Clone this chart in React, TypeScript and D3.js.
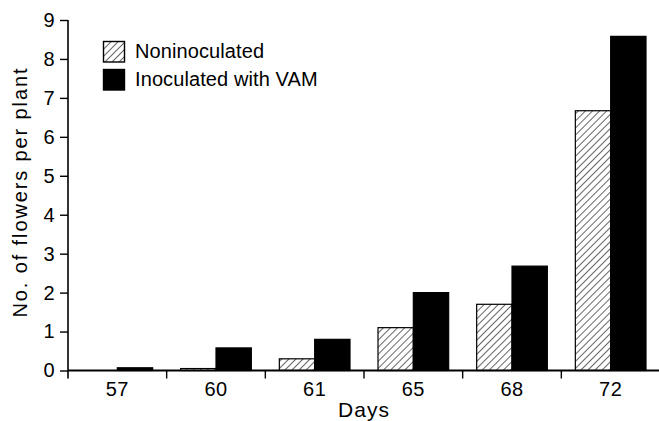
import React, { useEffect, useRef } from "react";
import * as d3 from "d3";

const days = ["57", "60", "61", "65", "68", "72"];
const series = ["Noninoculated", "Inoculated with VAM"];
const noninoculated = [0, 0.05, 0.3, 1.1, 1.7, 6.67];
const inoculated = [0.07, 0.58, 0.8, 2.0, 2.68, 8.58];
const yTicks = [0, 1, 2, 3, 4, 5, 6, 7, 8, 9];

const App = () => {
  const svgRef = useRef<SVGSVGElement>(null);

  useEffect(() => {
    const width = 659,
      height = 421;
    const left = 68,
      right = 660,
      top = 20,
      bottom = 370.5;
    const font = "'Liberation Sans', Arial, Helvetica, sans-serif";

    const svg = d3
      .select(svgRef.current)
      .attr("width", width)
      .attr("height", height)
      .html("");

    // hatch pattern for the noninoculated bars
    const defs = svg.append("defs");
    const pat = defs
      .append("pattern")
      .attr("id", "hatch")
      .attr("patternUnits", "userSpaceOnUse")
      .attr("width", 5)
      .attr("height", 5)
      .attr("patternTransform", "rotate(45)");
    pat.append("rect").attr("width", 5).attr("height", 5).attr("fill", "#fff");
    pat
      .append("line")
      .attr("x1", 0)
      .attr("y1", 0)
      .attr("x2", 0)
      .attr("y2", 5)
      .attr("stroke", "#000")
      .attr("stroke-width", 1.2);

    const x0 = d3.scaleBand().domain(days).range([left, right]).padding(0);
    const x1 = d3
      .scaleBand()
      .domain(series)
      .range([14, x0.bandwidth() - 14])
      .padding(0);
    const y = d3.scaleLinear().domain([0, 9]).range([bottom, top]);

    const rows = days.map((d, i) => ({
      day: d,
      vals: [
        { key: series[0], v: noninoculated[i] },
        { key: series[1], v: inoculated[i] },
      ],
    }));

    // bars
    const groups = svg
      .append("g")
      .selectAll("g")
      .data(rows)
      .enter()
      .append("g")
      .attr("transform", (d) => `translate(${x0(d.day)},0)`);

    groups
      .selectAll("rect")
      .data((d) => d.vals)
      .enter()
      .append("rect")
      .attr("x", (d) => x1(d.key)!)
      .attr("y", (d) => y(d.v))
      .attr("width", x1.bandwidth())
      .attr("height", (d) => bottom - y(d.v))
      .attr("fill", (d) => (d.key === series[0] ? "url(#hatch)" : "#000"))
      .attr("stroke", "#000")
      .attr("stroke-width", (d) => (d.v > 0 ? 1.2 : 0));

    // y axis
    const yAxis = svg
      .append("g")
      .attr("transform", `translate(${left},0)`)
      .call(
        d3
          .axisLeft(y)
          .tickValues(yTicks)
          .tickSize(8)
          .tickPadding(5)
          .tickSizeOuter(0)
      );
    yAxis.select(".domain").attr("stroke-width", 1.6).attr("d", `M0,${top}V${bottom + 8}`);
    yAxis.selectAll(".tick line").attr("stroke-width", 1.4);
    yAxis
      .selectAll("text")
      .attr("font-family", font)
      .attr("font-size", 20)
      .attr("letter-spacing", 0.5)
      .attr("fill", "#000");

    // x axis: line plus ticks at band boundaries
    svg
      .append("line")
      .attr("x1", left)
      .attr("x2", right)
      .attr("y1", bottom)
      .attr("y2", bottom)
      .attr("stroke", "#000")
      .attr("stroke-width", 2);

    svg
      .append("g")
      .selectAll("line")
      .data(days.slice(1))
      .enter()
      .append("line")
      .attr("x1", (d) => x0(d)!)
      .attr("x2", (d) => x0(d)!)
      .attr("y1", bottom)
      .attr("y2", bottom + 8)
      .attr("stroke", "#000")
      .attr("stroke-width", 1.4);

    svg
      .append("g")
      .selectAll("text")
      .data(days)
      .enter()
      .append("text")
      .attr("x", (d) => x0(d)! + x0.bandwidth() / 2)
      .attr("y", 396)
      .attr("text-anchor", "middle")
      .attr("font-family", font)
      .attr("font-size", 20)
      .attr("letter-spacing", 0.5)
      .text((d) => d);

    // axis titles
    svg
      .append("text")
      .attr("x", (left + right) / 2)
      .attr("y", 417)
      .attr("text-anchor", "middle")
      .attr("font-family", font)
      .attr("font-size", 21)
      .attr("letter-spacing", 1)
      .text("Days");

    svg
      .append("text")
      .attr("transform", `translate(27,193) rotate(-90)`)
      .attr("text-anchor", "middle")
      .attr("font-family", font)
      .attr("font-size", 20)
      .attr("textLength", 249)
      .attr("lengthAdjust", "spacing")
      .text("No. of flowers per plant");

    // legend
    const legend = svg
      .append("g")
      .selectAll("g")
      .data(series)
      .enter()
      .append("g")
      .attr("transform", (d, i) => `translate(103.5,${41.5 + i * 28})`);
    legend
      .append("rect")
      .attr("width", 21)
      .attr("height", 20.5)
      .attr("fill", (d, i) => (i === 0 ? "url(#hatch)" : "#000"))
      .attr("stroke", "#000")
      .attr("stroke-width", 1.4);
    legend
      .append("text")
      .attr("x", 31.5)
      .attr("y", 16.5)
      .attr("font-family", font)
      .attr("font-size", 20)
      .attr("letter-spacing", 0.1)
      .text((d) => d);
  }, []);

  return <svg ref={svgRef} style={{ position: "absolute", left: 0, top: 0 }}></svg>;
};

export default App;
